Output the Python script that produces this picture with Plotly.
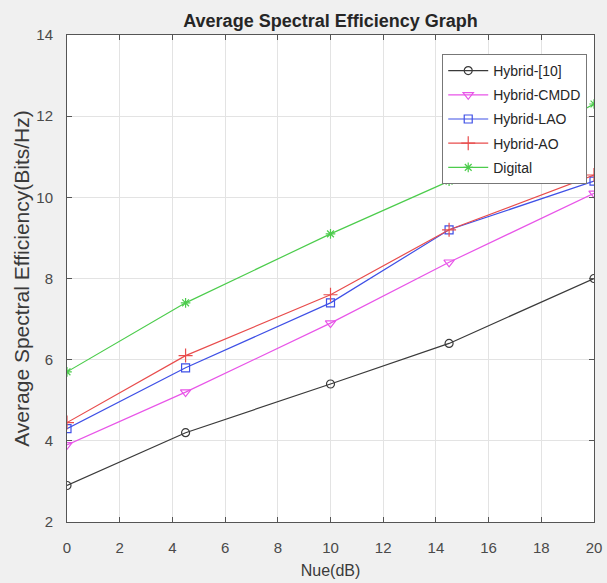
import plotly.graph_objects as go

# Noise-to-user ratio samples (dB)
nue_db = [0, 4.5, 10, 14.5, 20]

# Average spectral efficiency (bits/Hz) per scheme
hybrid_10 = [2.9, 4.2, 5.4, 6.4, 8.0]
hybrid_cmdd = [3.9, 5.2, 6.9, 8.4, 10.1]
hybrid_lao = [4.3, 5.8, 7.4, 9.2, 10.4]
hybrid_ao = [4.45, 6.1, 7.6, 9.2, 10.55]
digital = [5.7, 7.4, 9.1, 10.4, 12.3]

series = [
    ("Hybrid-[10]", hybrid_10, "#3a3a3a", "circle-open", 8),
    ("Hybrid-CMDD", hybrid_cmdd, "#e855e8", "triangle-down-open", 9),
    ("Hybrid-LAO", hybrid_lao, "#3f50e6", "square-open", 8),
    ("Hybrid-AO", hybrid_ao, "#e84c4c", "cross-thin-open", 10),
    ("Digital", digital, "#4ccc4c", "asterisk-open", 8),
]

x_ticks = list(range(0, 21, 2))
y_ticks = list(range(2, 15, 2))

FONT = "Liberation Sans, Arial"

fig = go.Figure()
for name, vals, color, symbol, size in series:
    fig.add_trace(go.Scatter(
        x=nue_db, y=vals, name=name, mode="lines+markers",
        legendgroup=name,
        line=dict(color=color, width=1.2),
        marker=dict(symbol=symbol, size=size, color=color,
                    line=dict(color=color, width=1.2)),
    ))

axis_common = dict(
    showline=True, linecolor="#555555", linewidth=1, mirror="ticks",
    ticks="inside", ticklen=5, tickcolor="#555555",
    showgrid=True, gridcolor="#e3e3e3", gridwidth=1,
    zeroline=False, ticklabeloverflow="allow",
    tickfont=dict(family=FONT, size=15, color="#4a4a4a"),
)

fig.update_layout(
    width=607, height=583,
    margin=dict(l=67, r=5, t=35, b=61),
    paper_bgcolor="#f0f0f0", plot_bgcolor="#ffffff",
    title=dict(text="<b>Average Spectral Efficiency Graph</b>",
               xref="paper", x=0.5, xanchor="center",
               yref="container", y=0.964, yanchor="middle",
               font=dict(family=FONT, size=18, color="#262626")),
    xaxis=dict(range=[0, 20], tickvals=x_ticks, ticklabelstandoff=12,
               title=dict(text="Nue(dB)", standoff=9,
                          font=dict(family=FONT, size=16, color="#3a3a3a")),
               **axis_common),
    yaxis=dict(range=[2, 14], tickvals=y_ticks, ticklabelstandoff=10,
               title=dict(text="Average Spectral Efficiency(Bits/Hz)", standoff=0,
                          font=dict(family=FONT, size=21, color="#3a3a3a")),
               **axis_common),
    legend=dict(x=0.712, y=0.961, xanchor="left", yanchor="top",
                bgcolor="#ffffff", bordercolor="#777777", borderwidth=1,
                font=dict(family=FONT, size=14, color="#262626"),
                tracegroupgap=3, itemwidth=40),
    showlegend=True,
)

fig.write_html("out.html")
